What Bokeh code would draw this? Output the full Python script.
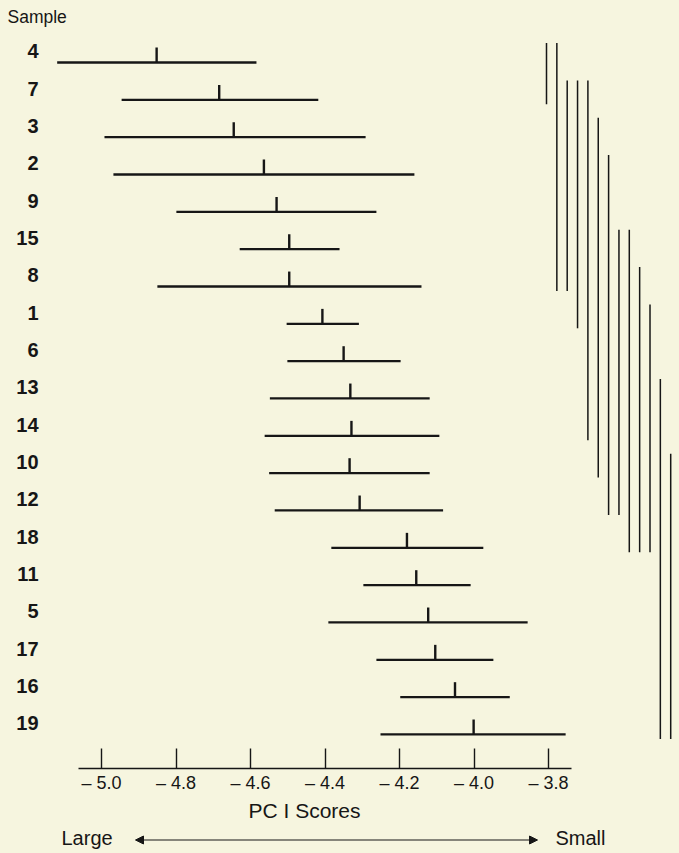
from bokeh.plotting import figure
from bokeh.models import Range1d, FixedTicker, ColumnDataSource, Arrow, NormalHead
from bokeh.layouts import column
from bokeh.core.properties import value
from bokeh.embed import file_html
from bokeh.resources import INLINE

# ---------------- data ----------------
samples = ["4", "7", "3", "2", "9", "15", "8", "1", "6", "13",
           "14", "10", "12", "18", "11", "5", "17", "16", "19"]
mean_scores = [-4.852, -4.684, -4.645, -4.564, -4.530, -4.496, -4.496, -4.407,
               -4.350, -4.332, -4.329, -4.334, -4.307, -4.180, -4.155, -4.123,
               -4.104, -4.051, -4.001]
lower_scores = [-5.119, -4.946, -4.992, -4.968, -4.799, -4.629, -4.850, -4.503,
                -4.501, -4.548, -4.562, -4.550, -4.535, -4.383, -4.297, -4.391,
                -4.262, -4.198, -4.251]
upper_scores = [-4.584, -4.418, -4.291, -4.160, -4.262, -4.361, -4.141, -4.309,
                -4.197, -4.119, -4.093, -4.119, -4.083, -3.975, -4.009, -3.856,
                -3.948, -3.904, -3.754]
x_ticks = [-5.0, -4.8, -4.6, -4.4, -4.2, -4.0, -3.8]
x_tick_labels = ["\u2013 5.0", "\u2013 4.8", "\u2013 4.6", "\u2013 4.4",
                 "\u2013 4.2", "\u2013 4.0", "\u2013 3.8"]
# homogeneous subsets: (first sample, last sample)
groups = [("4", "7"), ("4", "8"), ("7", "8"), ("7", "1"), ("7", "14"),
          ("3", "10"), ("2", "12"), ("15", "12"), ("15", "18"), ("8", "18"),
          ("1", "18"), ("13", "19"), ("10", "19")]
axis_title = "PC I Scores"
row_title = "Sample"
left_word = "Large"
right_word = "Small"

# ---------------- layout / style ----------------
BG = "#f6f5df"
INK = "#161616"
FONT = "Liberation Sans"

W = 679
PX_PER_UNIT = 372.5          # pixels per score unit
X0_PX = 101                  # pixel offset of -5.0 from frame left
x_start = -5.0 - X0_PX / PX_PER_UNIT
x_end = x_start + W / PX_PER_UNIT

ROW_PX = 37.33
FIRST_ROW_PX = 62            # first row's line below frame top
FRAME_A_H = 768
BOTTOM_A = 30
top_row = -FIRST_ROW_PX / ROW_PX
bottom_row = top_row + FRAME_A_H / ROW_PX

xr = Range1d(x_start, x_end)

pa = figure(width=W, height=FRAME_A_H + BOTTOM_A, x_range=xr,
            y_range=Range1d(bottom_row, top_row),
            output_backend="svg", toolbar_location=None, y_axis_location=None,
            min_border_left=0, min_border_right=0, min_border_top=0,
            min_border_bottom=BOTTOM_A,
            background_fill_color=BG, border_fill_color=BG)
pa.outline_line_color = None
pa.xgrid.visible = False
pa.ygrid.visible = False

rows = list(range(len(samples)))
src = ColumnDataSource(dict(
    sample=samples, row=rows,
    mean=mean_scores, lower=lower_scores, upper=upper_scores,
    tick_top=[r - 0.40 for r in rows],
    label_y=[r - 0.30 for r in rows],
))

pa.segment(x0="lower", y0="row", x1="upper", y1="row", source=src,
           line_width=2.3, line_color=INK)
pa.segment(x0="mean", y0="row", x1="mean", y1="tick_top", source=src,
           line_width=2.4, line_color=INK)

label_x = -5.0 - 63 / PX_PER_UNIT
pa.text(x=label_x, y="label_y", text="sample", source=src,
        text_align="right", text_baseline="middle",
        text_font=value(FONT), text_font_style="bold",
        text_font_size="20px", text_color=INK)

pa.text(x=[-5.0 - 94 / PX_PER_UNIT], y=[top_row + 16.5 / ROW_PX], text=[row_title],
        text_align="left", text_baseline="middle",
        text_font=value(FONT), text_font_size="17.5px", text_color=INK)

# group lines
row_of = {s: i for i, s in enumerate(samples)}
gx0 = -5.0 + 445 / PX_PER_UNIT
gdx = 10.35 / PX_PER_UNIT
gsrc = ColumnDataSource(dict(
    x=[gx0 + k * gdx for k in range(len(groups))],
    top=[row_of[a] - 0.52 for a, b in groups],
    bot=[row_of[b] + 0.12 for a, b in groups],
))
pa.segment(x0="x", y0="top", x1="x", y1="bot", source=gsrc,
           line_width=1.5, line_color=INK)

ax = pa.xaxis[0]
ax.ticker = FixedTicker(ticks=x_ticks)
ax.major_label_overrides = dict(zip(x_ticks, x_tick_labels))
ax.bounds = (-5.0 - 23 / PX_PER_UNIT, -3.8 + 23 / PX_PER_UNIT)
ax.major_tick_in = 20
ax.major_tick_out = 0
ax.minor_tick_line_color = None
ax.axis_line_width = 1.6
ax.axis_line_color = INK
ax.major_tick_line_width = 1.4
ax.major_tick_line_color = INK
ax.major_label_text_font = FONT
ax.major_label_text_font_size = "18px"
ax.major_label_text_color = INK
ax.major_label_standoff = 4

# ---------------- bottom strip ----------------
HB = 55
pb = figure(width=W, height=HB, x_range=xr, y_range=Range1d(HB, 0),
            output_backend="svg", toolbar_location=None,
            x_axis_location=None, y_axis_location=None,
            min_border_left=0, min_border_right=0, min_border_top=0,
            min_border_bottom=0,
            background_fill_color=BG, border_fill_color=BG)
pb.outline_line_color = None
pb.xgrid.visible = False
pb.ygrid.visible = False

pb.text(x=[-4.455], y=[12], text=[axis_title], text_align="center",
        text_baseline="middle", text_font=value(FONT),
        text_font_size="21px", text_color=INK)
pb.text(x=[-5.0 - 40 / PX_PER_UNIT], y=[39], text=[left_word],
        text_align="left", text_baseline="middle", text_font=value(FONT),
        text_font_size="20px", text_color=INK)
pb.text(x=[-3.8 + 7 / PX_PER_UNIT], y=[39], text=[right_word],
        text_align="left", text_baseline="middle", text_font=value(FONT),
        text_font_size="20px", text_color=INK)
pb.add_layout(Arrow(x_start=-5.0 + 34 / PX_PER_UNIT, y_start=41.5,
                    x_end=-3.8 - 11 / PX_PER_UNIT, y_end=41.5,
                    line_width=1.1, line_color=INK,
                    start=NormalHead(size=8, fill_color=INK, line_color=INK),
                    end=NormalHead(size=8, fill_color=INK, line_color=INK)))

p = column(pa, pb, spacing=0)

TEMPLATE = "{% block postamble %}<style>html, body { background: #f6f5df; }</style>{% endblock %}"
open("out.html", "w").write(file_html(p, INLINE, template=TEMPLATE))
